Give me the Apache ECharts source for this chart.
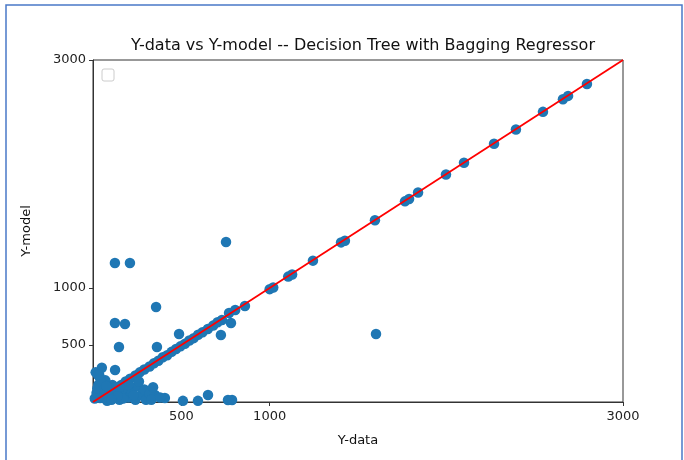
<!DOCTYPE html>
<html>
<head>
<meta charset="utf-8">
<script src="https://cdn.jsdelivr.net/npm/echarts@6/dist/echarts.min.js"></script>
<style>
  html, body { margin: 0; padding: 0; background: #fff; }
  #chart { width: 684px; height: 460px; }
</style>
</head>
<body>
<div id="chart"></div>
<script>
const yData = [
  1000, 1020, 1105, 1127, 1245, 1404, 1426, 1596, 1766, 1789, 1840, 1998, 2100, 2270, 2394, 2547, 2660, 2689, 2796,
  40, 70, 100, 130, 160, 185, 210, 240, 265, 290, 320, 345, 370, 395, 420, 445, 470, 495, 520, 545, 570, 595, 620, 650, 680, 705, 730, 770, 805, 860,
  753, 124, 209, 357, 124, 181, 147, 362, 1602, 487, 724, 781,
  351, 407, 509, 594, 651, 764, 787, 28, 125,
  10, 20, 30, 50, 60, 80, 90, 110, 130, 150, 160, 180, 200, 220, 240, 250, 270, 290, 300, 320, 340, 330, 380, 260, 200, 150, 110, 70, 40, 15, 50, 170, 230, 140,
  25, 45, 65, 85, 105, 35, 75
]
const yModel = [
  990, 1005, 1100, 1118, 1240, 1400, 1415, 1595, 1760, 1780, 1838, 1995, 2098, 2265, 2390, 2545, 2655, 2685, 2790,
  35, 65, 95, 128, 150, 180, 205, 232, 260, 285, 312, 340, 362, 392, 410, 440, 465, 488, 510, 540, 560, 590, 612, 640, 670, 700, 720, 780, 807, 842,
  1403, 1219, 1219, 833, 693, 684, 482, 482, 596, 596, 588, 693,
  61, 35, 10, 10, 61, 17, 17, 237, 281,
  30, 80, 150, 120, 40, 10, 80, 40, 90, 20, 70, 110, 40, 90, 20, 140, 60, 110, 20, 70, 130, 20, 40, 180, 150, 130, 150, 190, 210, 260, 300, 30, 60, 50,
  120, 180, 110, 60, 20, 240, 140
]
const xTicks = [500, 1000, 3000]
const yTicks = [500, 1000, 3000]
const idealLine = [[0, 0], [3000, 3000]]

const points = yData.map((x, i) => [x, yModel[i]])
const font = 'DejaVu Sans'

const chart = echarts.init(document.getElementById('chart'))
chart.setOption({
  animation: false,
  backgroundColor: '#fff',
  title: {
    text: 'Y-data vs Y-model -- Decision Tree with Bagging Regressor',
    left: 358,
    textAlign: 'center',
    top: 33,
    textStyle: { fontFamily: font, fontSize: 16, fontWeight: 'normal', color: '#111' }
  },
  grid: {
    left: 93, right: 61, top: 60, bottom: 58,
    show: true, borderColor: '#333', borderWidth: 1
  },
  xAxis: {
    type: 'value', min: 0, max: 3000,
    name: 'Y-data', nameLocation: 'middle', nameGap: 32,
    nameTextStyle: { fontFamily: font, fontSize: 13, color: '#111' },
    axisLine: { show: true, lineStyle: { color: '#333' } },
    axisTick: { show: true, customValues: xTicks, length: 4, lineStyle: { color: '#333' } },
    axisLabel: { customValues: xTicks, formatter: v => String(v), fontFamily: font, fontSize: 13, color: '#222', margin: 8 },
    splitLine: { show: false }
  },
  yAxis: {
    type: 'value', min: 0, max: 3000,
    name: 'Y-model', nameLocation: 'middle', nameGap: 60,
    nameTextStyle: { fontFamily: font, fontSize: 13, color: '#111' },
    axisLine: { show: true, lineStyle: { color: '#333' } },
    axisTick: { show: true, customValues: yTicks, length: 4, lineStyle: { color: '#333' } },
    axisLabel: { customValues: yTicks, formatter: v => String(v), fontFamily: font, fontSize: 13, color: '#222', margin: 7 },
    splitLine: { show: false }
  },
  graphic: [
    {
      type: 'rect', silent: true,
      shape: { x: 6, y: 5, width: 676, height: 470 },
      style: { fill: 'none', stroke: '#4a78c8', lineWidth: 1.5 }
    },
    {
      type: 'rect', silent: true,
      shape: { x: 102, y: 69, width: 12, height: 12, r: 2 },
      style: { fill: '#fff', stroke: '#ccc', lineWidth: 1 }
    }
  ],
  series: [
    {
      type: 'scatter',
      data: points,
      symbolSize: 10.5,
      itemStyle: { color: '#1f77b4', opacity: 1 },
      clip: true
    },
    {
      type: 'line',
      data: idealLine,
      showSymbol: false,
      symbol: 'none',
      lineStyle: { color: '#ff0000', width: 1.8 },
      z: 3
    }
  ]
})
</script>
</body>
</html>
